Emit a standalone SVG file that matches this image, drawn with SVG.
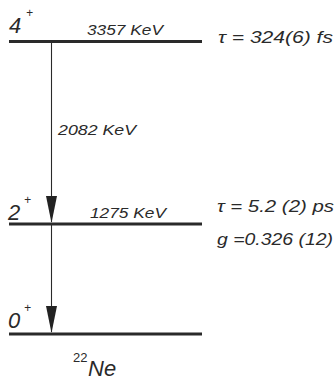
<svg xmlns="http://www.w3.org/2000/svg" width="336" height="382" viewBox="0 0 336 382">
<style>
.lvl{stroke:#2a2a2a;stroke-width:3.2;fill:none}
.tr{stroke:#2a2a2a;stroke-width:1.1;fill:none}
.head{fill:#222}
text{font-family:"Liberation Sans",Arial,sans-serif;font-style:italic;fill:#2a2a2a}
.big{font-size:22px}
.sup{font-size:12px}
.e{font-size:14px}
.p{font-size:16px}
</style>
<rect width="336" height="382" fill="#fff"/>
<g id="level-4">
<line class="lvl" x1="9" y1="41.5" x2="202" y2="41.5"/>
<text class="big" x="9" y="33">4</text><text class="sup" x="26" y="17">+</text>
<text class="e" x="87" y="35" textLength="76" lengthAdjust="spacingAndGlyphs">3357 KeV</text>
<text class="p" x="218" y="43" textLength="115" lengthAdjust="spacingAndGlyphs">τ = 324(6) fs</text>
</g>
<g id="level-2">
<line class="lvl" x1="9" y1="224" x2="202" y2="224"/>
<text class="big" x="8" y="220">2</text><text class="sup" x="24" y="204">+</text>
<text class="e" x="90" y="218" textLength="76" lengthAdjust="spacingAndGlyphs">1275 KeV</text>
<text class="p" x="217" y="212" textLength="117" lengthAdjust="spacingAndGlyphs">τ = 5.2 (2) ps</text>
<text class="p" x="217" y="245" textLength="116" lengthAdjust="spacingAndGlyphs">g =0.326 (12)</text>
</g>
<g id="level-0">
<line class="lvl" x1="9" y1="334" x2="202" y2="334"/>
<text class="big" x="8" y="328">0</text><text class="sup" x="24" y="312">+</text>
</g>
<g id="nucleus">
<text class="sup" x="73" y="362" style="font-style:normal;font-size:13px">22</text>
<text class="big" x="88" y="376">Ne</text>
</g>
<g id="connectors">
<line class="tr" x1="51.5" y1="42" x2="51.5" y2="222"/>
<polygon class="head" points="46,196 57,196 51.5,223"/>
<text class="e" x="58" y="135" textLength="78" lengthAdjust="spacingAndGlyphs">2082 KeV</text>
<line class="tr" x1="51.5" y1="225" x2="51.5" y2="332"/>
<polygon class="head" points="46,306 57,306 51.5,333"/>
</g>
</svg>
